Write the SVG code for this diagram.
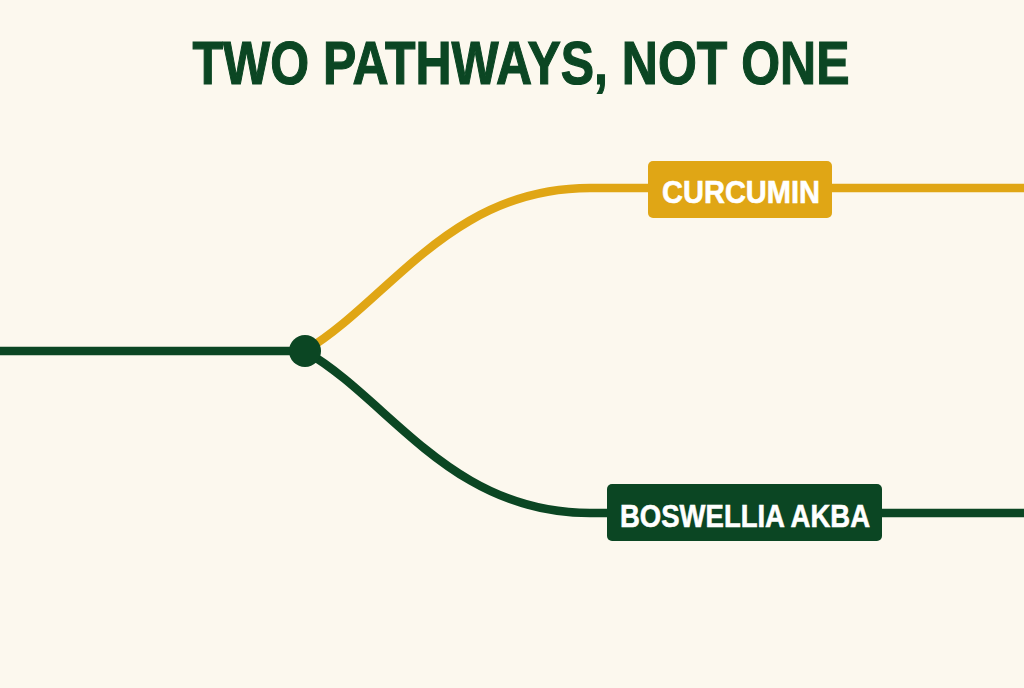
<svg xmlns="http://www.w3.org/2000/svg" width="1024" height="688" viewBox="0 0 1024 688">
<style>
.bg{fill:#FCF8EE}
.title{font-family:"Liberation Sans",Arial,sans-serif;font-weight:bold;font-size:62px;fill:#0B4623;stroke:#0B4623;stroke-width:1.2}
.lbl{font-family:"Liberation Sans",Arial,sans-serif;font-weight:bold;font-size:32px;fill:#FFFFFF;stroke:#FFFFFF;stroke-width:0.6}
.yl{fill:none;stroke:#E0A615;stroke-width:8.5}
.gl{fill:none;stroke:#0B4623;stroke-width:8.5}
</style>
<rect class="bg" x="0" y="0" width="1024" height="688"/>
<text class="title" x="521" y="84" text-anchor="middle" textLength="657" lengthAdjust="spacingAndGlyphs">TWO PATHWAYS, NOT ONE</text>
<g id="connectors">
<path class="gl" d="M0,351 L305,351"/>
<path class="yl" d="M305,351 C390,300 450,188 590,188 L1024,188"/>
<path class="gl" d="M305,351 C390,400 450,513 590,513 L1024,513"/>
</g>
<g id="node-junction">
<circle cx="305" cy="351" r="16" fill="#0B4623"/>
</g>
<g id="node-curcumin">
<rect x="648" y="161" width="184" height="57" rx="5" fill="#E0A615"/>
<text class="lbl" x="741" y="203" text-anchor="middle" textLength="158" lengthAdjust="spacingAndGlyphs">CURCUMIN</text>
</g>
<g id="node-boswellia">
<rect x="607" y="484" width="275" height="57" rx="5" fill="#0B4623"/>
<text class="lbl" x="745" y="527" text-anchor="middle" textLength="250" lengthAdjust="spacingAndGlyphs">BOSWELLIA AKBA</text>
</g>
</svg>
